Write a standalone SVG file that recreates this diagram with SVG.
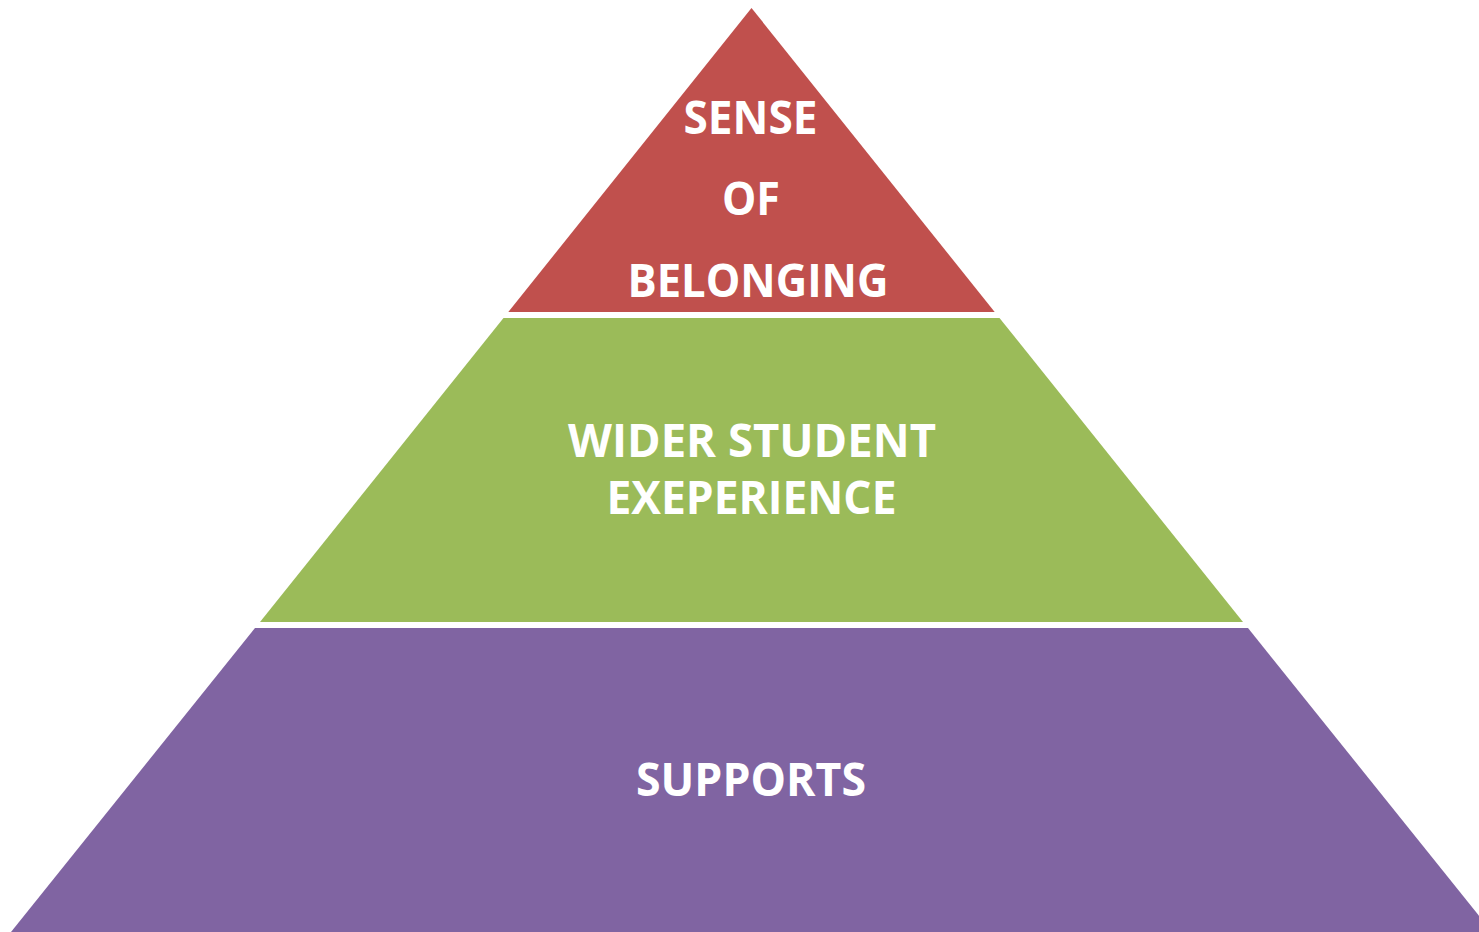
<svg xmlns="http://www.w3.org/2000/svg" width="1479" height="932" viewBox="0 0 1479 932">
<style>
.lbl{font-family:"Open Sans","Liberation Sans",sans-serif;font-weight:700;font-size:47px;fill:#FFFFFF;text-anchor:middle}
</style>
<rect width="1479" height="932" fill="#FFFFFF"/>
<g id="connectors"></g>
<g id="level-top">
<polygon points="751.5,8 994.7,312 508.3,312" fill="#C0504D"/>
<text class="lbl" x="750.5" y="134" textLength="134" lengthAdjust="spacingAndGlyphs">SENSE</text>
<text class="lbl" x="751" y="215" textLength="58" lengthAdjust="spacingAndGlyphs">OF</text>
<text class="lbl" x="758" y="297" textLength="261" lengthAdjust="spacingAndGlyphs">BELONGING</text>
</g>
<g id="level-middle">
<polygon points="503.5,318 999.5,318 1243,622 260,622" fill="#9BBB59"/>
<text class="lbl" x="752" y="457" textLength="368" lengthAdjust="spacingAndGlyphs">WIDER STUDENT</text>
<text class="lbl" x="751.5" y="514" textLength="290" lengthAdjust="spacingAndGlyphs">EXEPERIENCE</text>
</g>
<g id="level-bottom">
<polygon points="255,628 1248,628 1492,932 11,932" fill="#8064A2"/>
<text class="lbl" x="751" y="796" textLength="230" lengthAdjust="spacingAndGlyphs">SUPPORTS</text>
</g>
</svg>
